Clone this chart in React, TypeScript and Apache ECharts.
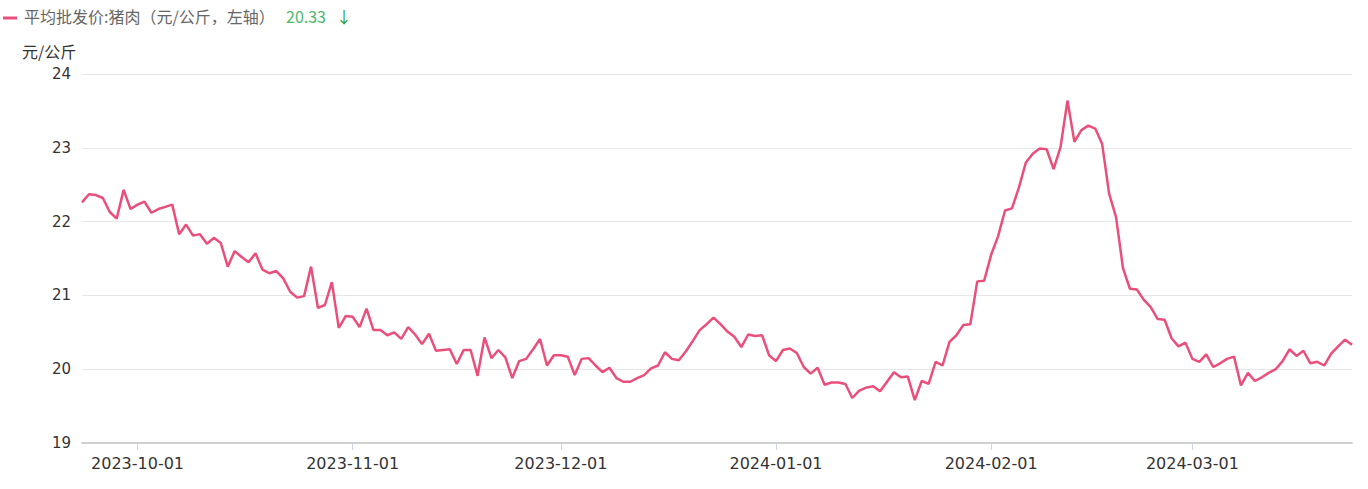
import React, { useEffect, useRef } from "react";
import * as echarts from "echarts";

// ---- data ----
const startDate = "2023-09-23"; // first daily observation
const seriesName = "平均批发价:猪肉（元/公斤，左轴）";
const unitName = "元/公斤";
const yTicks = [19, 20, 21, 22, 23, 24];

const porkPrice: number[] = [
  22.26, 22.37, 22.36, 22.32, 22.13, 22.04, 22.43, 22.17, 22.23, 22.27,
  22.12, 22.17, 22.2, 22.23, 21.83, 21.96, 21.81, 21.83, 21.7, 21.78,
  21.71, 21.39, 21.6, 21.52, 21.45, 21.57, 21.35, 21.3, 21.33, 21.23,
  21.05, 20.97, 20.99, 21.39, 20.83, 20.87, 21.18, 20.56, 20.72, 20.71,
  20.57, 20.82, 20.53, 20.53, 20.46, 20.5, 20.41, 20.57, 20.47, 20.34,
  20.48, 20.25, 20.26, 20.27, 20.07, 20.26, 20.26, 19.91, 20.43, 20.15,
  20.26, 20.16, 19.88, 20.11, 20.14, 20.27, 20.41, 20.05, 20.19, 20.19,
  20.17, 19.92, 20.14, 20.15, 20.05, 19.96, 20.02, 19.88, 19.83, 19.83,
  19.88, 19.92, 20.01, 20.05, 20.23, 20.14, 20.12, 20.24, 20.38, 20.53,
  20.61, 20.7, 20.61, 20.51, 20.44, 20.3, 20.47, 20.45, 20.46, 20.19,
  20.11, 20.26, 20.28, 20.22, 20.03, 19.94, 20.02, 19.79, 19.82, 19.82,
  19.8, 19.61, 19.71, 19.75, 19.77, 19.7, 19.83, 19.96, 19.89, 19.9,
  19.58, 19.84, 19.8, 20.1, 20.05, 20.37, 20.46, 20.6, 20.61, 21.19,
  21.2, 21.55, 21.8, 22.15, 22.18, 22.46, 22.8, 22.92, 22.99, 22.98,
  22.71, 23.01, 23.64, 23.08, 23.24, 23.3, 23.26, 23.05, 22.38, 22.06,
  21.37, 21.09, 21.08, 20.94, 20.84, 20.68, 20.67, 20.42, 20.31, 20.36,
  20.14, 20.1, 20.2, 20.03, 20.08, 20.14, 20.17, 19.78, 19.95, 19.84,
  19.89, 19.95, 20.0, 20.11, 20.27, 20.18, 20.25, 20.08, 20.1, 20.05,
  20.21, 20.31, 20.4, 20.33,
];

function buildDates(start: string, n: number): string[] {
  const [y, m, d] = start.split("-").map(Number);
  const base = Date.UTC(y, m - 1, d);
  const out: string[] = [];
  for (let i = 0; i < n; i++) {
    const dt = new Date(base + i * 86400000);
    const mm = String(dt.getUTCMonth() + 1).padStart(2, "0");
    const dd = String(dt.getUTCDate()).padStart(2, "0");
    out.push(`${dt.getUTCFullYear()}-${mm}-${dd}`);
  }
  return out;
}

const dates = buildDates(startDate, porkPrice.length);

const LINE_COLOR = "#ea4f7b";
const FONT = '"Noto Sans CJK SC", "DejaVu Sans", sans-serif';

export default function App() {
  const ref = useRef<HTMLDivElement>(null);

  useEffect(() => {
    if (!ref.current) return;
    const chart = echarts.init(ref.current, null, { renderer: "svg" });
    const last = porkPrice[porkPrice.length - 1];
    const isMonthStart = (_i: number, v: string) => v.slice(8) === "01";

    chart.setOption({
      animation: false,
      backgroundColor: "#ffffff",
      grid: { left: 82, right: 16, top: 74, bottom: 46, containLabel: false },
      xAxis: {
        type: "category",
        data: dates,
        boundaryGap: false,
        axisLine: { show: true, lineStyle: { color: "#d0d0d0", width: 2 } },
        axisTick: {
          show: true,
          interval: isMonthStart,
          length: 7,
          lineStyle: { color: "#ccd6eb", width: 1 },
        },
        axisLabel: {
          interval: isMonthStart,
          color: "#333333",
          fontSize: 16,
          fontFamily: "DejaVu Sans",
          margin: 12,
        },
        splitLine: { show: false },
      },
      yAxis: {
        type: "value",
        min: yTicks[0],
        max: yTicks[yTicks.length - 1],
        interval: 1,
        axisLine: { show: false },
        axisTick: { show: false },
        axisLabel: {
          color: "#333333",
          fontSize: 15,
          fontFamily: "DejaVu Sans",
          margin: 11,
        },
        splitLine: { show: true, lineStyle: { color: "#e6e6e6", width: 1 } },
      },
      series: [
        {
          name: seriesName,
          type: "line",
          data: porkPrice,
          showSymbol: false,
          symbol: "none",
          smooth: false,
          lineStyle: { color: LINE_COLOR, width: 2.5 },
          itemStyle: { color: LINE_COLOR },
        },
      ],
      graphic: [
        {
          type: "rect",
          left: 3,
          top: 16.5,
          shape: { width: 14, height: 3 },
          style: { fill: LINE_COLOR },
        },
        {
          type: "text",
          left: 24,
          top: 8,
          style: { text: seriesName, fill: "#666666", font: `16px ${FONT}` },
        },
        {
          type: "text",
          left: 286,
          top: 8,
          style: { text: last.toFixed(2), fill: "#4cb86a", font: `16px ${FONT}` },
        },
        {
          type: "text",
          left: 336,
          top: 8,
          style: { text: "↓", fill: "#2a9a3c", font: `16px ${FONT}` },
        },
        {
          type: "text",
          left: 22,
          top: 43,
          style: { text: unitName, fill: "#333333", font: `16px ${FONT}` },
        },
      ],
    });

    return () => chart.dispose();
  }, []);

  return (
    <div
      ref={ref}
      style={{ position: "fixed", left: 0, top: 0, width: 1368, height: 489 }}
    />
  );
}
